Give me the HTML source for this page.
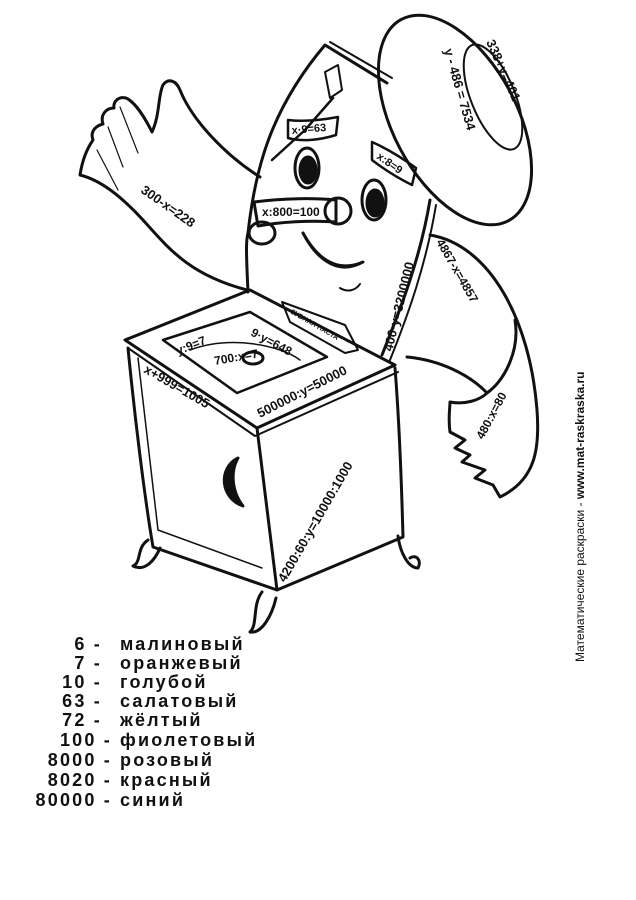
<!DOCTYPE html>
<html><head><meta charset="utf-8"><style>
html,body{margin:0;padding:0;background:#fff}
svg{display:block}
.t{font-family:"Liberation Sans","DejaVu Sans",sans-serif;font-weight:bold;fill:#111}
</style></head><body>
<svg width="636" height="900" viewBox="0 0 636 900" xmlns="http://www.w3.org/2000/svg">
<rect width="636" height="900" fill="#fff"/>
<g fill="none" stroke="#111" stroke-width="3" stroke-linejoin="round" stroke-linecap="round">
<!-- left wing -->
<path d="M260,177 C225,155 192,120 180,90 C176,80 168,78 163,85 C158,95 160,115 152,132 C145,118 135,102 126,98 C118,96 113,102 114,108 C106,108 100,115 103,124 C95,126 90,132 93,140 C86,150 82,162 80,175 C100,180 120,195 143,220 C170,250 190,275 247,290"/>
<path d="M120,107 L138,153 M108,127 L123,167 M97,150 L118,190" stroke-width="1.2"/>
<!-- body board -->
<path d="M248,292 C246,250 246,240 248,233 C255,170 270,110 325,45 L387,83"/>
<path d="M330,42 L392,78" stroke-width="2"/>
<path d="M430,200 C420,260 400,310 382,355"/>
<path d="M436,205 C426,265 408,315 390,360" stroke-width="2"/>
<!-- hat -->
<ellipse cx="455" cy="120" rx="62" ry="114" transform="rotate(-28 455 120)"/>
<ellipse cx="493" cy="97" rx="22" ry="56" transform="rotate(-22 493 97)" stroke-width="2"/>
<!-- right arm -->
<path d="M430,235 C490,245 530,320 537,410 C540,450 535,480 500,497 L493,485 L475,478 L485,470 L462,462 L470,455 L455,448 L465,440 L450,432 C448,418 450,408 450,402 C465,405 480,400 487,393 C470,375 440,360 407,357"/>
<path d="M515,320 C520,350 505,380 487,393"/>
<!-- toothbrush -->
<path d="M325,72 L338,65 L342,90 L330,98 Z" stroke-width="2"/>
<path d="M333,98 L305,130 L272,160" stroke-width="2.5"/>
<!-- eyes -->
<ellipse cx="307" cy="168" rx="12" ry="20"/>
<ellipse cx="308" cy="170" rx="8" ry="13" fill="#111"/>
<ellipse cx="374" cy="200" rx="12" ry="20"/>
<ellipse cx="375" cy="203" rx="8" ry="13" fill="#111"/>
<!-- bands -->
<path d="M288,120 C305,122 322,120 338,117 L336,135 C320,140 302,142 288,138 Z" stroke-width="2.5"/>
<path d="M372,142 C390,150 405,160 416,168 L412,185 C398,178 385,170 372,160 Z" stroke-width="2.5"/>
<!-- nose -->
<path d="M254,202 C285,198 315,198 336,200 L336,222 C310,220 280,222 258,226 Z"/>
<circle cx="338" cy="211" r="13"/>
<ellipse cx="262" cy="233" rx="13" ry="11"/>
<!-- mouth -->
<path d="M303,233 C318,262 340,275 363,262 C345,270 322,268 303,233 Z" fill="#111"/>
<path d="M340,288 C348,293 356,290 360,284" stroke-width="2"/>
<!-- cabinet -->
<path d="M125,340 L250,290 L395,365 L257,428 Z"/>
<path d="M128,348 L255,436 L398,372" stroke-width="2"/>
<path d="M128,348 C135,420 145,500 153,547 L277,590 L257,428"/>
<path d="M395,368 C400,430 402,500 403,537 L277,590"/>
<path d="M138,358 L158,530 L262,568" stroke-width="1.5"/>
<!-- basin -->
<path d="M163,340 L250,312 L327,357 L237,393 Z" stroke-width="2.5"/>
<path d="M190,350 C230,335 280,345 300,360" stroke-width="1.5"/>
<ellipse cx="253" cy="358" rx="10" ry="6"/>
<!-- toothpaste -->
<path d="M282,302 L345,325 L358,350 L345,353 L290,322 Z" stroke-width="2"/>
<!-- handle -->
<path d="M238,458 C218,468 220,498 243,506 C232,492 230,472 238,458 Z" fill="#111"/>
<!-- feet -->
<path d="M148,540 C136,548 142,562 133,566 C145,572 155,560 160,548"/>
<path d="M262,592 C252,605 258,625 250,632 C262,634 272,615 276,598"/>
<path d="M398,536 C400,552 408,568 418,568 C422,560 416,554 410,558"/>
</g>
<g class="t" font-size="13">
<text transform="translate(140,192) rotate(35)">300-x=228</text>
<text transform="translate(292,134) rotate(-5)" font-size="11">x·9=63</text>
<text transform="translate(376,158) rotate(35)" font-size="11">x:8=9</text>
<text transform="translate(262,216)" font-size="12">x:800=100</text>
<text transform="translate(486,42) rotate(66)" font-size="13">338+y=401</text>
<text transform="translate(444,50) rotate(74)" font-size="13">y - 486 = 7534</text>
<text transform="translate(392,352) rotate(-76)" font-size="13">400·y=3200000</text>
<text transform="translate(436,242) rotate(60)" font-size="12">4867-x=4857</text>
<text transform="translate(483,440) rotate(-62)" font-size="12">480:x=80</text>
<text transform="translate(178,355) rotate(-22)" font-size="12">y:9=7</text>
<text transform="translate(250,335) rotate(28)" font-size="12">9·y=648</text>
<text transform="translate(215,365) rotate(-10)" font-size="12">700:x=7</text>
<text transform="translate(290,313) rotate(30)" font-size="7">ЗУБНАЯ ПАСТА</text>
<text transform="translate(143,372) rotate(30)">x+999=1005</text>
<text transform="translate(260,418) rotate(-27)">500000:y=50000</text>
<text transform="translate(285,583) rotate(-60)">4200:60:y=10000:1000</text>
</g>
<g class="t" font-size="18" letter-spacing="2.2">
<text x="102" y="650" text-anchor="end">6 -</text><text x="120" y="650">малиновый</text>
<text x="102" y="669" text-anchor="end">7 -</text><text x="120" y="669">оранжевый</text>
<text x="102" y="688" text-anchor="end">10 -</text><text x="120" y="688">голубой</text>
<text x="102" y="707" text-anchor="end">63 -</text><text x="120" y="707">салатовый</text>
<text x="102" y="726" text-anchor="end">72 -</text><text x="120" y="726">жёлтый</text>
<text x="112" y="746" text-anchor="end">100 -</text><text x="120" y="746">фиолетовый</text>
<text x="112" y="766" text-anchor="end">8000 -</text><text x="120" y="766">розовый</text>
<text x="112" y="786" text-anchor="end">8020 -</text><text x="120" y="786">красный</text>
<text x="112" y="806" text-anchor="end">80000 -</text><text x="120" y="806">синий</text>
</g>
<text transform="translate(584,662) rotate(-90)" font-family="Liberation Sans, sans-serif" font-size="12" fill="#111">Математические раскраски - <tspan font-weight="bold">www.mat-raskraska.ru</tspan></text>
</svg>
</body></html>
